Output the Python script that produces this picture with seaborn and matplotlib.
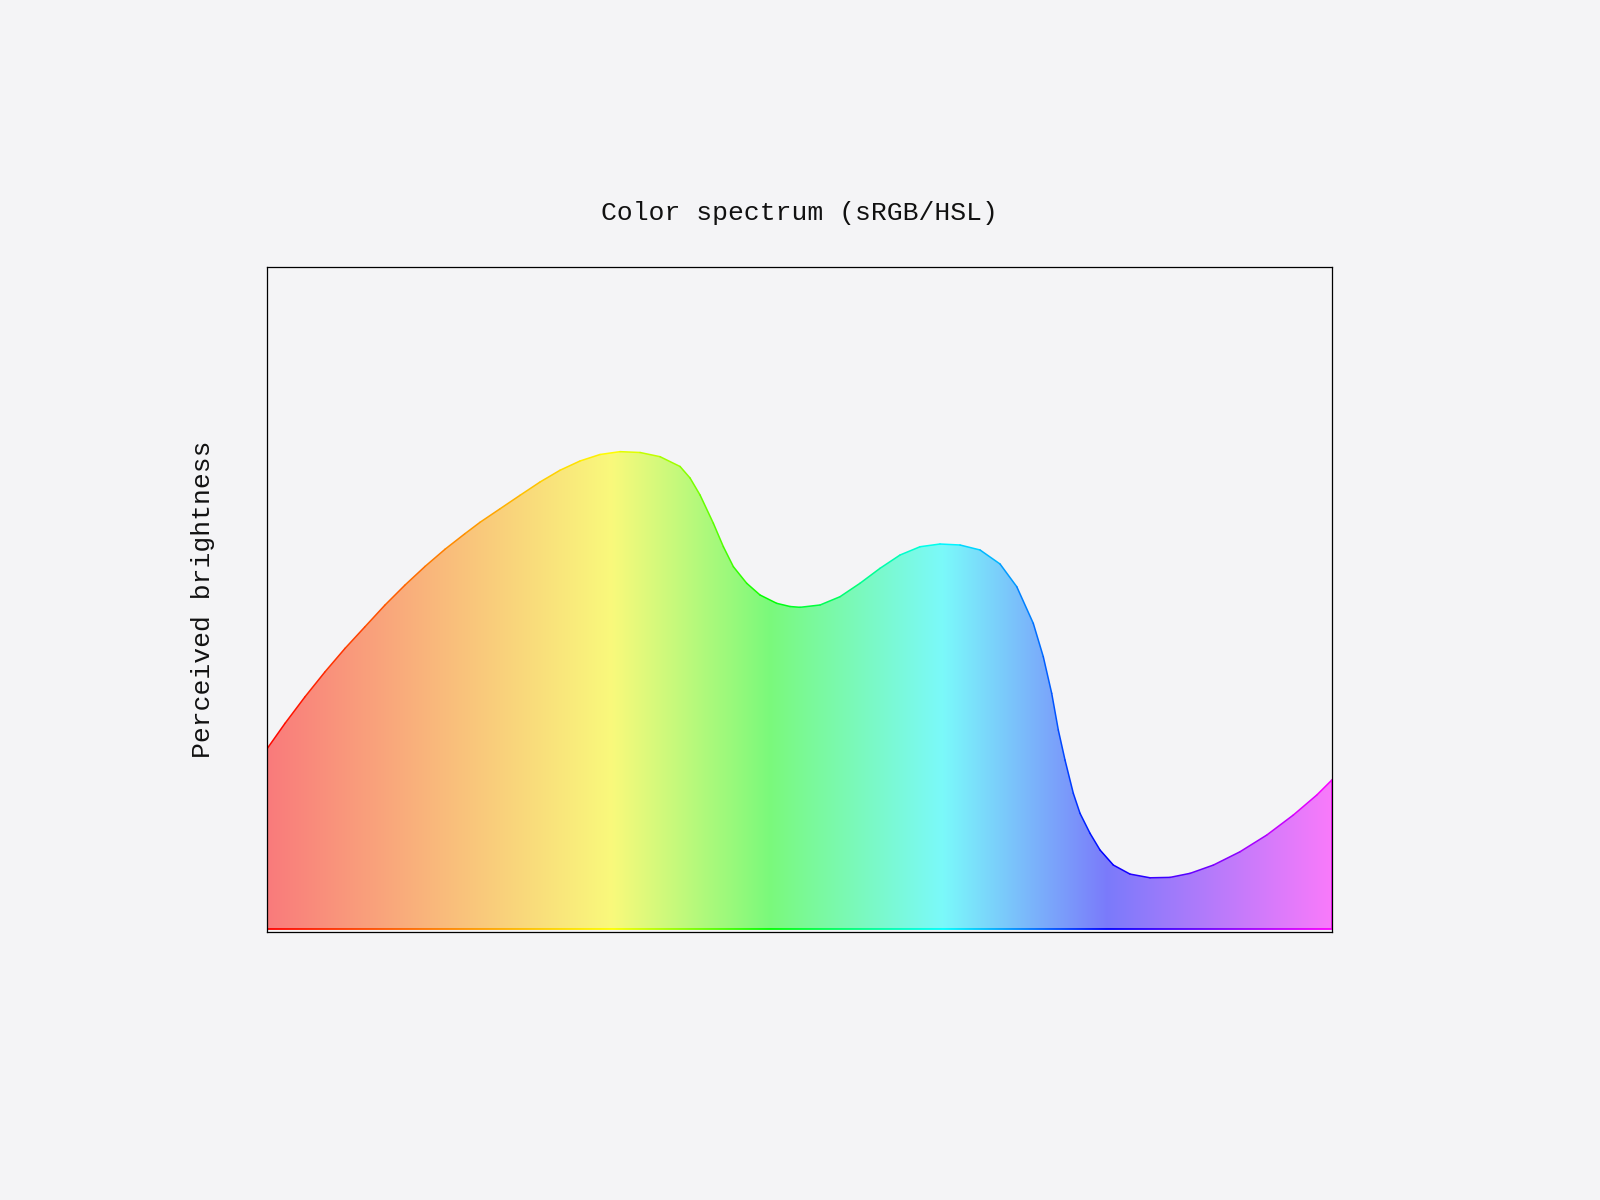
import numpy as np
import matplotlib
matplotlib.use("Agg")
import matplotlib.pyplot as plt
import seaborn as sns
from matplotlib.collections import LineCollection
from matplotlib.colors import hsv_to_rgb

# position along the spectrum (0 = left edge, 1 = right edge)
spectrum_pos = [
    0.0000, 0.0166, 0.0354, 0.0542, 0.0730, 0.0917, 0.1105, 0.1293, 0.1481,
    0.1669, 0.1856, 0.1997, 0.2185, 0.2373, 0.2561, 0.2748, 0.2936, 0.3124,
    0.3312, 0.3500, 0.3687, 0.3875, 0.3969, 0.4063, 0.4188, 0.4282, 0.4376,
    0.4501, 0.4626, 0.4783, 0.4908, 0.5002, 0.5190, 0.5377, 0.5565, 0.5753,
    0.5941, 0.6129, 0.6316, 0.6504, 0.6692, 0.6880, 0.7037, 0.7192, 0.7286,
    0.7365, 0.7427, 0.7490, 0.7568, 0.7631, 0.7725, 0.7819, 0.7944, 0.8100,
    0.8288, 0.8476, 0.8664, 0.8883, 0.9133, 0.9384, 0.9634, 0.9854, 1.0000,
]
# perceived brightness
brightness = [
    0.2734, 0.3112, 0.3514, 0.3891, 0.4245, 0.4571, 0.4899, 0.5201, 0.5482,
    0.5742, 0.5977, 0.6148, 0.6352, 0.6556, 0.6757, 0.6934, 0.7074, 0.7172,
    0.7215, 0.7202, 0.7139, 0.6991, 0.6817, 0.6560, 0.6133, 0.5779, 0.5477,
    0.5227, 0.5050, 0.4924, 0.4876, 0.4864, 0.4899, 0.5024, 0.5227, 0.5453,
    0.5654, 0.5779, 0.5820, 0.5805, 0.5730, 0.5518, 0.5175, 0.4622, 0.4118,
    0.3565, 0.3011, 0.2557, 0.2054, 0.1752, 0.1450, 0.1198, 0.0971, 0.0835,
    0.0779, 0.0785, 0.0846, 0.0971, 0.1172, 0.1424, 0.1727, 0.2029, 0.2263,
]
# where each pure hue sits on the spectrum
hue_stop_pos = [0.0, 0.324, 0.472, 0.635, 0.789, 1.0]
hue_stop_deg = [0, 60, 120, 180, 240, 300]

title = "Color spectrum (sRGB/HSL)"
ylabel = "Perceived brightness"
bg = "#f4f4f6"


def hue_color(pos):
    h = np.interp(pos, hue_stop_pos, hue_stop_deg) / 360.0
    hsv = np.stack([h, np.ones_like(h), np.ones_like(h)], axis=-1)
    return hsv_to_rgb(hsv)


sns.set_theme(style="white", rc={
    "figure.facecolor": bg,
    "axes.facecolor": bg,
    "axes.edgecolor": "black",
    "axes.linewidth": 0.9,
})
plt.rcParams["font.family"] = ["Liberation Mono", "DejaVu Sans Mono"]

fig = plt.figure(figsize=(16, 12), dpi=100)
ax = fig.add_axes([0.1671, 0.2236, 0.6656, 0.5537])

x = np.array(spectrum_pos)
y = np.array(brightness)

# gradient fill clipped to the area under the curve
poly = ax.fill_between(x, 0, y, facecolor="none", edgecolor="none")
grid = np.linspace(0, 1, 1200)
row = hue_color(grid)
rgba = np.concatenate([row, np.full((row.shape[0], 1), 0.5)], axis=1)[None, :, :]
im = ax.imshow(rgba, extent=(0, 1, 0, 1), aspect="auto", origin="lower",
               interpolation="bilinear", zorder=1)
im.set_clip_path(poly.get_paths()[0], transform=ax.transData)

# outline of the filled area, coloured by hue
curve_pts = np.column_stack([x, y])
curve_segs = np.stack([curve_pts[:-1], curve_pts[1:]], axis=1)
curve_cols = hue_color((x[:-1] + x[1:]) / 2)

base_pts = np.column_stack([grid, np.zeros_like(grid)])
base_segs = np.stack([base_pts[:-1], base_pts[1:]], axis=1)
base_cols = hue_color((grid[:-1] + grid[1:]) / 2)

edge_segs = np.array([[[0, 0], [0, y[0]]], [[1, 0], [1, y[-1]]]])
edge_cols = hue_color(np.array([0.0, 1.0]))

segs = np.concatenate([curve_segs, base_segs, edge_segs])
cols = np.concatenate([curve_cols, base_cols, edge_cols])
lc = LineCollection(segs, colors=cols, linewidths=1.1, zorder=2,
                    capstyle="round", joinstyle="round")
ax.add_collection(lc)

ax.set_xlim(0, 1)
ax.set_ylim(-0.0035, 1.0)
ax.set_xticks([])
ax.set_yticks([])
for side in ["top", "right", "bottom", "left"]:
    ax.spines[side].set_visible(True)
    ax.spines[side].set_color("black")

ax.set_title(title, fontsize=19, pad=34, color="#111111")
ax.set_ylabel(ylabel, fontsize=19, labelpad=38, color="#111111")

fig.savefig("out.png", dpi=100, facecolor=bg)
